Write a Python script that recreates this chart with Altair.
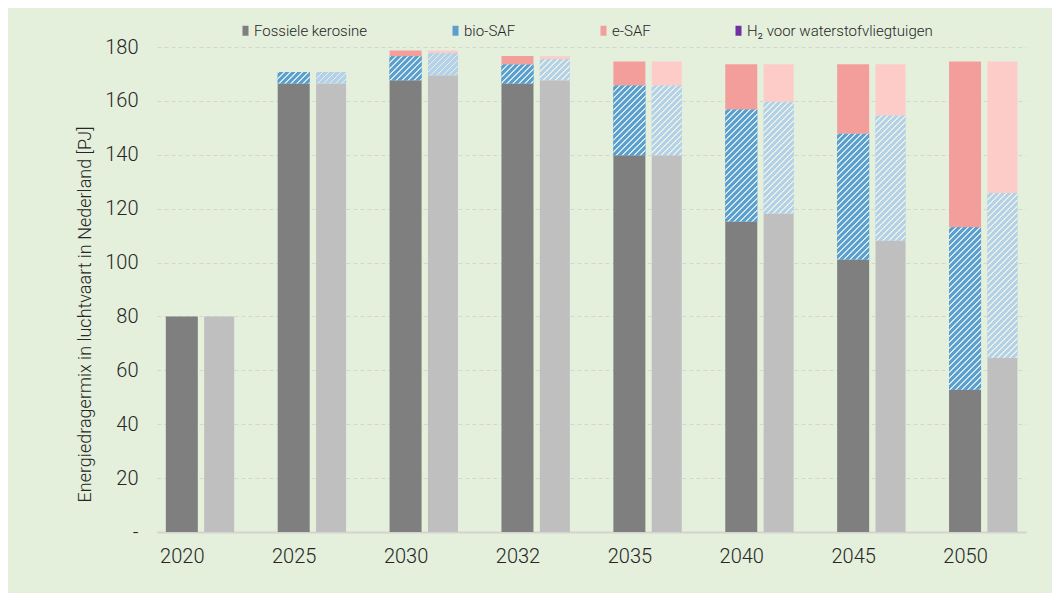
import json
import altair as alt
import pandas as pd

# ---------------- data ----------------
years = ["2020", "2025", "2030", "2032", "2035", "2040", "2045", "2050"]
series_names = ["Fossiele kerosine", "bio-SAF", "e-SAF", "H\u2082 voor waterstofvliegtuigen"]
variants = ["donker", "licht"]

fossiel_donker = [80.0, 166.5, 167.7, 166.5, 139.8, 115.2, 101.1, 52.8]
bio_donker = [0.0, 4.2, 8.9, 7.0, 25.9, 41.6, 46.7, 60.3]
esaf_donker = [0.0, 0.0, 2.1, 3.2, 8.9, 16.8, 25.8, 61.5]
h2_donker = [0.0, 0.0, 0.0, 0.0, 0.0, 0.0, 0.0, 0.0]

fossiel_licht = [80.0, 166.5, 169.5, 167.7, 139.8, 118.2, 108.2, 64.6]
bio_licht = [0.0, 4.2, 8.2, 7.8, 25.9, 41.5, 46.4, 61.2]
esaf_licht = [0.0, 0.0, 1.0, 1.1, 8.9, 13.9, 19.0, 48.8]
h2_licht = [0.0, 0.0, 0.0, 0.0, 0.0, 0.0, 0.0, 0.0]

y_ticks = [0, 20, 40, 60, 80, 100, 120, 140, 160, 180]

# ---------------- styling ----------------
colors = {
    "donker": ["#7f7f7f", "#5b9fd1", "#f49e9b", "#7030a0"],
    "licht": ["#bfbfbf", "#b5d1ea", "#fdccc9", "#b898d0"],
}
stripe_colors = {"donker": "#d3e6e8", "licht": "#e6f0e3"}
BG = "#e4efdc"
TEXT = "#262626"
FONT = "Roboto"

PLOT_W, PLOT_H = 869, 485
Y_MAX = 180
X_MIN, X_MAX = -0.177, 7.5
OFFSET_LICHT = 0.334
BAR_W = {"donker": 32, "licht": 30}
STRIPE_PERIOD = 6.0
STRIPE_WIDTH = 1.8

data_by_variant = {
    "donker": [fossiel_donker, bio_donker, esaf_donker, h2_donker],
    "licht": [fossiel_licht, bio_licht, esaf_licht, h2_licht],
}

rows = []
for i, yr in enumerate(years):
    for v in variants:
        for s_idx, (name, arr) in enumerate(zip(series_names, data_by_variant[v])):
            rows.append(
                {
                    "jaar": yr,
                    "idx": i,
                    "variant": v,
                    "reeks": name,
                    "volgorde": s_idx,
                    "waarde": arr[i],
                    "key": f"{name}|{v}",
                }
            )
df = pd.DataFrame(rows)

color_domain = [f"{n}|{v}" for v in variants for n in series_names]
color_range = colors["donker"] + colors["licht"]

base = alt.Chart(df).transform_stack(
    stack="waarde",
    groupby=["jaar", "variant"],
    sort=[alt.SortField("volgorde", order="ascending")],
    as_=["v0", "v1"],
).transform_calculate(
    pos=f"datum.idx + (datum.variant === 'licht' ? {OFFSET_LICHT} : 0)"
)

x_enc = alt.X(
    "pos:Q",
    scale=alt.Scale(domain=[X_MIN, X_MAX], nice=False, zero=False),
    axis=alt.Axis(
        values=list(range(len(years))),
        labelExpr=f"{json.dumps(years)}[datum.value]",
        title=None,
        grid=False,
        ticks=False,
        domainColor="#d2d4d0",
        domainWidth=2,
        labelFontSize=20,
        labelPadding=14,
        labelFlush=False,
    ),
)
y_enc = alt.Y(
    "v0:Q",
    scale=alt.Scale(domain=[0, Y_MAX], nice=False),
    axis=alt.Axis(
        values=y_ticks,
        labelExpr="datum.value == 0 ? '-' : datum.label",
        title="Energiedragermix in luchtvaart in Nederland [PJ]",
        titleFontSize=18,
        titleAngle=270,
        titleX=-72,
        titleY=267,
        titleBaseline="middle",
        titleAlign="center",
        domain=False,
        ticks=False,
        grid=True,
        gridColor="#d3d8cf",
        gridDash=[4, 3],
        gridWidth=1,
        labelFontSize=20,
        labelPadding=19,
    ),
)
y2_enc = alt.Y2("v1:Q")

layers = []
for v in variants:
    layers.append(
        base.transform_filter((alt.datum.variant == v) & (alt.datum.waarde > 0))
        .mark_bar(width=BAR_W[v])
        .encode(
            x=x_enc,
            y=y_enc,
            y2=y2_enc,
            color=alt.Color(
                "key:N",
                scale=alt.Scale(domain=color_domain, range=color_range),
                legend=alt.Legend(
                    values=[f"{n}|donker" for n in series_names],
                    labelExpr="split(datum.label, '|')[0]",
                    title=None,
                ),
            ),
        )
    )


def hatch_gradient(width_px, height_px, base_color, stripe_color):
    """Diagonal '/' stripes: t = (X+Y)/(W+H) across the segment's box."""
    L = width_px + height_px
    s = width_px * L / (width_px ** 2 + height_px ** 2)
    stops = []
    k = 0
    while k * STRIPE_PERIOD < L:
        a = k * STRIPE_PERIOD / L
        b = min((k * STRIPE_PERIOD + STRIPE_WIDTH) / L, 1.0)
        c = min((k + 1) * STRIPE_PERIOD / L, 1.0)
        stops += [
            alt.GradientStop(offset=round(a, 5), color=stripe_color),
            alt.GradientStop(offset=round(b, 5), color=stripe_color),
            alt.GradientStop(offset=round(b, 5), color=base_color),
            alt.GradientStop(offset=round(c, 5), color=base_color),
        ]
        k += 1
    return alt.LinearGradient(
        gradient="linear",
        stops=stops,
        x1=0,
        y1=0,
        x2=round(s, 5),
        y2=round(s * height_px / width_px, 5),
    )


px_per_unit = PLOT_H / Y_MAX
for v in variants:
    bio_vals = data_by_variant[v][1]
    for i, val in enumerate(bio_vals):
        if val <= 0:
            continue
        grad = hatch_gradient(BAR_W[v], val * px_per_unit, colors[v][1], stripe_colors[v])
        layers.append(
            base.transform_filter(
                (alt.datum.variant == v) & (alt.datum.idx == i) & (alt.datum.volgorde == 1)
            )
            .mark_bar(width=BAR_W[v], color=grad)
            .encode(x=x_enc, y=y_enc, y2=y2_enc)
        )

chart = (
    alt.layer(*layers)
    .properties(
        width=PLOT_W,
        height=PLOT_H,
        padding={"left": 149, "top": 39, "right": 26, "bottom": 61},
        autosize=alt.AutoSizeParams(type="none"),
        background=BG,
    )
    .configure_view(stroke=None)
    .configure_axis(
        labelFont=FONT,
        labelFontWeight=300,
        labelColor=TEXT,
        titleFont=FONT,
        titleFontWeight=300,
        titleColor=TEXT,
    )
    .configure_legend(
        orient="none",
        legendX=81,
        legendY=-24,
        direction="horizontal",
        columnPadding=80,
        padding=0,
        labelFont=FONT,
        labelFontSize=15,
        labelFontWeight=300,
        labelColor=TEXT,
        labelOffset=1,
        labelLimit=400,
        symbolType="M-0.6,-1H0.6V1H-0.6Z",
        symbolSize=100,
        symbolStrokeWidth=0,
    )
)

chart.save("out.html", embed_options={"renderer": "svg", "actions": False})
